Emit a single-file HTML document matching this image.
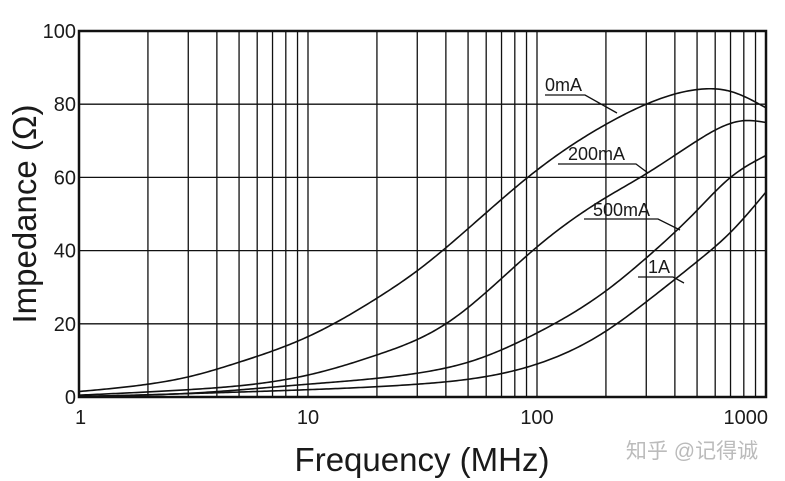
<!DOCTYPE html>
<html><head><meta charset="utf-8"><style>
html,body{margin:0;padding:0;background:#fff;width:785px;height:481px;overflow:hidden}
svg{display:block}
text{font-family:"Liberation Sans","Noto Sans CJK SC",sans-serif;fill:#1a1a1a}
</style></head><body>
<svg id="chart" width="785" height="481" viewBox="0 0 785 481">
<g id="grid"></g>
<g id="curves"></g>
<g id="ticks"></g>
<rect x="79" y="31" width="687" height="366" fill="none" stroke="#111" stroke-width="2.5"/>
<text transform="translate(36,214) rotate(-90)" text-anchor="middle" font-size="33">Impedance (Ω)</text>
<text x="422" y="471" text-anchor="middle" font-size="33">Frequency (MHz)</text>
<text x="692" y="458" text-anchor="middle" font-size="21" style="fill:#bbb">知乎 @记得诚</text>
<g id="labels" stroke="#111" stroke-width="1.3" fill="none">
<text x="545" y="91" font-size="18" stroke="none">0mA</text>
<path d="M545 95 H585 L617 113"/>
<text x="568" y="160" font-size="18" stroke="none">200mA</text>
<path d="M558 164 H636 L648 173"/>
<text x="593" y="216" font-size="18" stroke="none">500mA</text>
<path d="M584 219 H658 L680 230"/>
<text x="648" y="273" font-size="18" stroke="none">1A</text>
<path d="M638 277 H673 L684 283"/>
</g>
</svg>
<script>
const freq0 = [1,2,3,5,10,20,30,50,100,200,300,500,700,1000];
const z0mA  = [1.5,3.5,5.5,9.5,16.5,27,34.5,46,62,74.5,80,84,83.5,79];
const freq200 = [1,3,10,20,40,100,200,300,500,800,1000];
const z200mA  = [0.5,2,6,11.5,20,41,54.5,61,70,75.5,75];
const freq500 = [1,3,10,30,50,100,200,300,500,700,1000];
const z500mA  = [0.2,1,3.5,6.5,9.5,17.5,29,38,51,60,66];
const freq1A = [1,10,30,100,200,300,500,700,1000];
const z1A    = [0.1,2,3.5,9,18,26,37,45,56];
const yTicks = [0,20,40,60,80,100];
const xTickLabels = [1,10,100,1000];

const L=79,R=766,T=31,B=397;
const xs=f=>L+(R-L)*Math.log10(f)/3;
const ys=v=>B-(B-T)*v/100;
const NS='http://www.w3.org/2000/svg';
const grid=document.getElementById('grid'),ticks=document.getElementById('ticks'),curves=document.getElementById('curves');
function line(x1,y1,x2,y2,w,name){const l=document.createElementNS(NS,'line');
l.setAttribute('x1',x1);l.setAttribute('y1',y1);l.setAttribute('x2',x2);l.setAttribute('y2',y2);
l.setAttribute('stroke','#111');l.setAttribute('stroke-width',w);


grid.appendChild(l);}
for(let d=1;d<=100;d*=10){for(let m=1;m<=9;m++){const f=d*m;if(f===1)continue;line(xs(f),T,xs(f),B,1.3,'x-gridline');}}
yTicks.forEach(v=>{line(L,ys(v),R,ys(v),1.3,'y-gridline');
const t=document.createElementNS(NS,'text');t.setAttribute('x',L-3);t.setAttribute('y',ys(v)+7);
t.setAttribute('text-anchor','end');t.setAttribute('font-size','20');t.textContent=v;


ticks.appendChild(t);});
xTickLabels.forEach(f=>{const t=document.createElementNS(NS,'text');t.setAttribute('y',424);
let anchor='middle',x=xs(f);if(f===1){anchor='start';x-=4;}if(f===1000){anchor='end';x+=2;}
t.setAttribute('x',x);t.setAttribute('text-anchor',anchor);t.setAttribute('font-size','20');t.textContent=f;


ticks.appendChild(t);});
function spline(X,Y){const n=X.length,h=[],a=[],l=[1],mu=[0],z=[0],c=new Array(n).fill(0),b=[],d=[];
for(let i=0;i<n-1;i++)h.push(X[i+1]-X[i]);
for(let i=1;i<n-1;i++)a[i]=3/h[i]*(Y[i+1]-Y[i])-3/h[i-1]*(Y[i]-Y[i-1]);
for(let i=1;i<n-1;i++){l[i]=2*(X[i+1]-X[i-1])-h[i-1]*mu[i-1];mu[i]=h[i]/l[i];z[i]=(a[i]-h[i-1]*z[i-1])/l[i];}
for(let j=n-2;j>=0;j--){c[j]=(j>0?z[j]:0)-mu[j]*c[j+1];b[j]=(Y[j+1]-Y[j])/h[j]-h[j]*(c[j+1]+2*c[j])/3;d[j]=(c[j+1]-c[j])/(3*h[j]);}
return x=>{let i=0;while(i<n-2&&x>X[i+1])i++;const t=x-X[i];return Y[i]+b[i]*t+c[i]*t*t+d[i]*t*t*t;};}
function curve(fr,vals,name){const X=fr.map(f=>Math.log10(f));const s=spline(X,vals);
let d='';for(let k=0;k<=300;k++){const x=X[0]+(X[X.length-1]-X[0])*k/300;
d+=(k?'L':'M')+(L+(R-L)*x/3).toFixed(2)+' '+ys(s(x)).toFixed(2);}
const el=document.createElementNS(NS,'path');el.setAttribute('d',d);el.setAttribute('fill','none');
el.setAttribute('stroke','#111');el.setAttribute('stroke-width','1.6');


curves.appendChild(el);}
curve(freq0,z0mA,'curve-0ma');
curve(freq200,z200mA,'curve-200ma');
curve(freq500,z500mA,'curve-500ma');
curve(freq1A,z1A,'curve-1a');
</script>
</body></html>
